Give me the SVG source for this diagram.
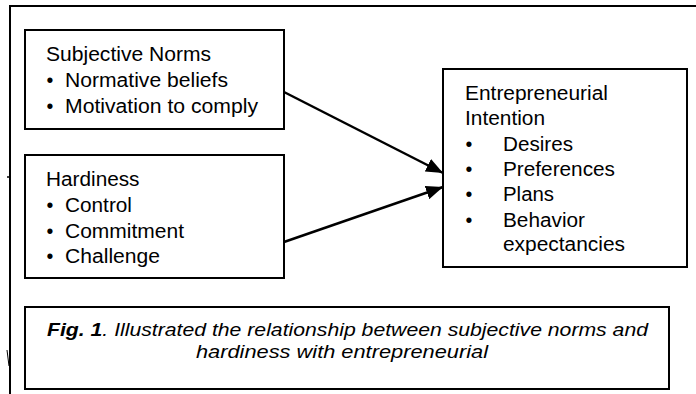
<svg xmlns="http://www.w3.org/2000/svg" width="696" height="394" viewBox="0 0 696 394">
<style>
.box{fill:#fff;stroke:#000;stroke-width:2}
.t{font-family:"Liberation Sans",Arial,sans-serif;font-size:19.5px;fill:#000}
.b{text-anchor:middle}
.cap{font-family:"Liberation Sans",Arial,sans-serif;font-size:19px;font-style:italic;fill:#000}
.edge{stroke:#000;stroke-width:2.5;fill:none}
</style>
<defs>
<marker id="ah" markerUnits="userSpaceOnUse" markerWidth="18" markerHeight="14" refX="17" refY="7" orient="auto">
<path d="M0,0 L17,7 L0,14 Z" fill="#000"/>
</marker>
</defs>
<g id="frame">
<path d="M10,394 V6 H696" fill="none" stroke="#000" stroke-width="2"/>
<path d="M7,177 H10" stroke="#000" stroke-width="1.5"/>
<path d="M7,350 L9,366" stroke="#000" stroke-width="1"/>
</g>
<g id="subjective-norms">
<rect class="box" x="25" y="30" width="259" height="99"/>
<text class="t" x="46" y="60.5" textLength="165" lengthAdjust="spacingAndGlyphs">Subjective Norms</text>
<text class="t b" x="50" y="87">•</text>
<text class="t" x="65" y="87" textLength="163" lengthAdjust="spacingAndGlyphs">Normative beliefs</text>
<text class="t b" x="50" y="113">•</text>
<text class="t" x="65" y="113" textLength="193" lengthAdjust="spacingAndGlyphs">Motivation to comply</text>
</g>
<g id="hardiness">
<rect class="box" x="25" y="155" width="259" height="123"/>
<text class="t" x="46" y="186" textLength="93.5" lengthAdjust="spacingAndGlyphs">Hardiness</text>
<text class="t b" x="50" y="212">•</text>
<text class="t" x="65" y="212" textLength="67" lengthAdjust="spacingAndGlyphs">Control</text>
<text class="t b" x="50" y="237.5">•</text>
<text class="t" x="65" y="237.5" textLength="119" lengthAdjust="spacingAndGlyphs">Commitment</text>
<text class="t b" x="50" y="263">•</text>
<text class="t" x="65" y="263" textLength="95" lengthAdjust="spacingAndGlyphs">Challenge</text>
</g>
<g id="entrepreneurial-intention">
<rect class="box" x="443" y="69" width="244" height="198"/>
<text class="t" x="465" y="100" textLength="143" lengthAdjust="spacingAndGlyphs">Entrepreneurial</text>
<text class="t" x="465" y="125" textLength="80" lengthAdjust="spacingAndGlyphs">Intention</text>
<text class="t b" x="469" y="151">•</text>
<text class="t" x="503" y="151" textLength="70" lengthAdjust="spacingAndGlyphs">Desires</text>
<text class="t b" x="469" y="176">•</text>
<text class="t" x="503" y="176" textLength="112" lengthAdjust="spacingAndGlyphs">Preferences</text>
<text class="t b" x="469" y="201">•</text>
<text class="t" x="503" y="201" textLength="51" lengthAdjust="spacingAndGlyphs">Plans</text>
<text class="t b" x="469" y="226.5">•</text>
<text class="t" x="503" y="226.5" textLength="82" lengthAdjust="spacingAndGlyphs">Behavior</text>
<text class="t" x="503" y="251" textLength="122" lengthAdjust="spacingAndGlyphs">expectancies</text>
</g>
<g id="connectors">
<path class="edge" d="M284,92 L443,173" marker-end="url(#ah)"/>
<path class="edge" d="M284,242 L443,187" marker-end="url(#ah)"/>
</g>
<g id="caption">
<rect class="box" x="25" y="307" width="644" height="82"/>
<text class="cap" x="47" y="336" textLength="601" lengthAdjust="spacingAndGlyphs"><tspan font-weight="bold">Fig. 1</tspan>. Illustrated the relationship between subjective norms and</text>
<text class="cap" x="196" y="358" textLength="292" lengthAdjust="spacingAndGlyphs">hardiness with entrepreneurial</text>
</g>
</svg>
